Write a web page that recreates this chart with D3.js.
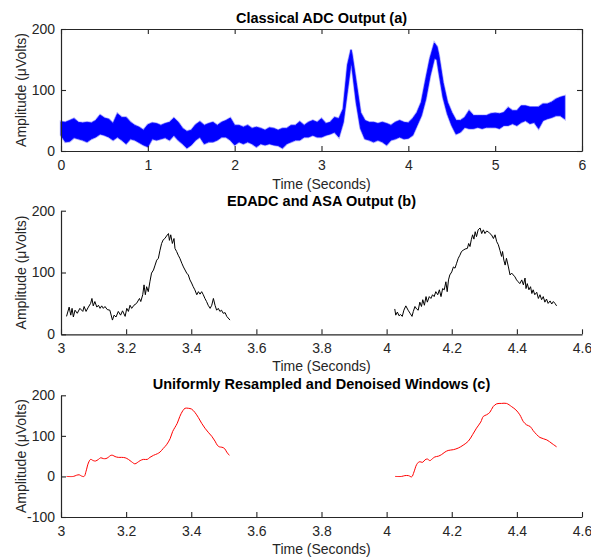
<!DOCTYPE html>
<html>
<head>
<meta charset="utf-8">
<script src="https://cdn.jsdelivr.net/npm/d3@7/dist/d3.min.js"></script>
<style>
  html, body { margin: 0; padding: 0; background: #fff; }
  svg { display: block; }
  text { font-family: "Liberation Sans", Arial, Helvetica, sans-serif; }
</style>
</head>
<body>
<svg id="chart" width="591" height="557"></svg>
<script>
// ---------------- DATA ----------------
// Panel (a): classical ADC output, noisy band (upper / lower envelope)
const timeA = [0,0.05,0.1,0.15,0.2,0.25,0.3,0.35,0.4,0.45,0.5,0.55,0.6,0.65,0.7,0.75,0.8,0.85,0.9,0.95,
  1.0,1.05,1.1,1.15,1.2,1.25,1.3,1.35,1.4,1.45,1.5,1.55,1.6,1.65,1.7,1.75,1.8,1.85,1.9,1.95,
  2.0,2.05,2.1,2.15,2.2,2.25,2.3,2.35,2.4,2.45,2.5,2.55,2.6,2.65,2.7,2.75,2.8,2.85,2.9,2.95,
  3.0,3.05,3.1,3.15,3.2,3.25,3.3,3.34,3.35,3.4,3.45,3.5,3.55,3.6,3.65,3.7,3.75,3.8,3.85,3.9,3.95,
  4.0,4.05,4.1,4.15,4.2,4.25,4.3,4.33,4.35,4.4,4.45,4.5,4.55,4.6,4.65,4.7,4.75,4.8,4.85,4.9,4.95,
  5.0,5.05,5.1,5.15,5.2,5.25,5.3,5.35,5.4,5.45,5.5,5.55,5.6,5.65,5.7,5.75,5.8];
const upperA = [48,47,50,53,47,46,47,46,50,59,54,52,45,61,55,55,47,42,39,34,
  43,46,45,42,45,47,54,47,37,32,34,43,48,42,45,47,42,47,50,54,
  42,42,39,42,37,39,37,34,38,37,34,37,37,42,42,48,42,47,50,47,
  53,45,47,55,53,69,141,166,160,112,63,50,47,47,45,47,45,42,47,50,47,
  46,53,63,80,117,152,177,171,158,112,80,63,50,50,55,66,58,58,58,58,61,
  62,61,63,71,66,66,74,74,72,72,72,77,77,80,85,88,90];
const lowerA = [26,15,16,22,20,18,15,20,23,28,26,23,18,23,18,12,20,18,14,10,
  7,20,18,20,22,18,26,18,12,5,10,18,23,12,15,15,18,23,23,18,
  10,15,12,15,12,7,12,10,12,10,9,5,12,15,18,18,23,23,26,23,
  23,26,28,31,23,47,101,144,139,80,37,20,18,15,18,15,10,18,20,23,20,
  21,26,42,58,85,123,152,150,131,88,61,42,28,31,39,37,37,39,37,39,39,
  39,37,42,42,45,42,47,50,45,47,37,50,53,55,58,58,53];

// Panel (b): EDADC and ASA output (two windows)
const timeB1 = [3.017,3.025,3.030,3.034,3.038,3.043,3.050,3.058,3.067,3.071,3.077,3.084,3.091,3.095,3.099,
  3.104,3.110,3.115,3.120,3.125,3.130,3.135,3.142,3.150,3.158,3.163,3.169,3.176,3.183,3.189,3.197,
  3.202,3.207,3.212,3.217,3.224,3.232,3.241,3.245,3.251,3.255,3.259,3.263,3.268,3.273,3.278,3.284,
  3.289,3.294,3.299,3.304,3.309,3.314,3.319,3.324,3.330,3.333,3.337,3.342,3.347,3.350,3.355,3.360,
  3.365,3.371,3.376,3.381,3.386,3.391,3.396,3.401,3.406,3.411,3.417,3.422,3.427,3.432,3.437,3.442,
  3.447,3.452,3.458,3.463,3.468,3.473,3.478,3.483,3.488,3.493,3.498,3.504,3.509,3.519];
const valB1 = [29,44,31,42,28,39,34,42,37,45,37,44,50,58,46,
  53,44,47,42,46,42,45,40,39,23,31,28,37,31,38,29,
  42,37,47,42,47,50,58,53,64,80,64,77,69,85,99,104,
  112,120,123,136,147,153,155,159,163,152,161,147,155,139,134,128,
  123,115,109,104,99,96,88,83,77,72,64,69,65,69,64,58,
  53,47,42,47,58,47,39,42,37,39,34,35,29,23];
const timeB2 = [4.025,4.028,4.033,4.038,4.043,4.048,4.053,4.059,4.066,4.072,4.078,4.082,4.087,4.092,4.097,
  4.102,4.107,4.111,4.116,4.121,4.125,4.131,4.136,4.141,4.146,4.151,4.157,4.162,4.167,4.172,4.177,
  4.182,4.186,4.190,4.194,4.200,4.205,4.210,4.215,4.220,4.225,4.230,4.235,4.241,4.248,4.252,4.256,
  4.260,4.264,4.268,4.272,4.276,4.281,4.287,4.292,4.297,4.302,4.307,4.312,4.317,4.322,4.328,4.333,
  4.338,4.343,4.348,4.353,4.356,4.360,4.364,4.368,4.374,4.379,4.384,4.389,4.394,4.399,4.404,4.409,
  4.415,4.420,4.425,4.428,4.432,4.437,4.442,4.446,4.450,4.455,4.461,4.466,4.471,4.476,4.481,4.486,
  4.491,4.496,4.502,4.507,4.512,4.517,4.522];
const valB2 = [41,31,36,30,32,29,39,46,39,34,29,37,45,41,39,
  52,45,56,47,61,52,61,58,64,61,69,64,72,61,74,72,
  85,69,88,96,101,109,107,115,123,128,134,136,138,139,147,142,
  153,161,154,166,158,169,172,163,169,163,167,166,163,161,155,161,
  150,145,136,126,134,120,112,123,109,96,99,96,93,88,85,82,
  88,80,91,74,82,72,77,66,72,64,68,58,64,56,61,52,
  57,50,54,49,53,50,46];

// Panel (c): uniformly resampled and denoised windows
const timeC1 = [3.017,3.038,3.048,3.056,3.063,3.071,3.077,3.084,3.091,3.099,3.106,3.115,3.122,3.130,3.138,
  3.145,3.153,3.159,3.166,3.176,3.186,3.197,3.207,3.217,3.227,3.234,3.243,3.253,3.265,3.273,3.284,
  3.296,3.304,3.314,3.324,3.335,3.343,3.350,3.357,3.365,3.374,3.381,3.391,3.401,3.411,3.422,3.432,
  3.442,3.452,3.463,3.473,3.480,3.486,3.494,3.502,3.509,3.517];
const valC1 = [0,0,3,4,1,0,13,33,42,39,38,42,46,44,44,
  47,52,52,49,47,47,46,42,36,31,34,39,42,42,47,52,
  56,60,69,78,93,111,121,131,148,162,168,168,166,158,145,131,
  119,109,99,87,77,73,72,69,60,52];
const timeC2 = [4.026,4.046,4.056,4.067,4.077,4.084,4.092,4.100,4.111,4.118,4.125,4.133,4.141,4.148,4.159,
  4.169,4.179,4.189,4.205,4.220,4.235,4.251,4.264,4.276,4.289,4.297,4.307,4.317,4.327,4.338,4.353,
  4.368,4.384,4.397,4.409,4.420,4.430,4.441,4.450,4.461,4.471,4.492,4.508,4.522];
const valC2 = [0,0,2,2,-1,11,29,36,35,41,43,39,44,48,50,
  54,60,64,66,70,77,87,103,119,134,148,152,158,172,179,180,
  180,172,164,152,135,127,123,113,103,96,90,81,73];

// Tick values / labels
const xTicksA = [0,1,2,3,4,5,6];
const yTicksA = [0,100,200];
const xTicksBC = [3,3.2,3.4,3.6,3.8,4,4.2,4.4,4.6];
const yTicksB = [0,100,200];
const yTicksC = [-100,0,100,200];
const titles = ["Classical ADC Output (a)", "EDADC and ASA Output (b)", "Uniformly Resampled and Denoised Windows (c)"];
const xLabel = "Time (Seconds)";
const yLabel = "Amplitude (\u03BCVolts)";

// ---------------- DRAW ----------------
const svg = d3.select("#chart");
svg.append("rect").attr("width", 591).attr("height", 557).attr("fill", "#fff");

const axisColor = "#262626";
const L = 61, R = 582;

function panel(cfg) {
  const x = d3.scaleLinear().domain(cfg.xdom).range([L, R]);
  const y = d3.scaleLinear().domain(cfg.ydom).range([cfg.bottom, cfg.top]);
  const g = svg.append("g");

  // data first
  cfg.draw(g, x, y);

  const fmt = d => String(d);
  g.append("g").attr("transform", `translate(0,${cfg.bottom})`)
    .call(d3.axisBottom(x).tickValues(cfg.xticks).tickFormat(fmt).tickSizeInner(-5).tickSizeOuter(0).tickPadding(9));
  g.append("g").attr("transform", `translate(${L},0)`)
    .call(d3.axisLeft(y).tickValues(cfg.yticks).tickFormat(fmt).tickSizeInner(-5).tickSizeOuter(0).tickPadding(6));
  if (cfg.box) {
    g.append("g").attr("transform", `translate(0,${cfg.top})`)
      .call(d3.axisTop(x).tickValues(cfg.xticks).tickFormat("").tickSizeInner(-5).tickSizeOuter(0));
    g.append("g").attr("transform", `translate(${R},0)`)
      .call(d3.axisRight(y).tickValues(cfg.yticks).tickFormat("").tickSizeInner(-5).tickSizeOuter(0));
  }
  g.selectAll(".domain").attr("stroke", axisColor).attr("stroke-width", 1.2);
  g.selectAll(".tick line").attr("stroke", axisColor).attr("stroke-width", 1.1);
  g.selectAll(".tick text").attr("fill", axisColor).style("font-size", "14px")
    .style("font-family", "'Liberation Sans', Arial, Helvetica, sans-serif");

  // title
  svg.append("text").attr("x", (L + R) / 2).attr("y", cfg.titleY)
    .attr("text-anchor", "middle").style("font-size", "14.5px").style("font-weight", "bold")
    .attr("fill", "#000").text(cfg.title);
  // x label
  svg.append("text").attr("x", (L + R) / 2).attr("y", cfg.xlabY)
    .attr("text-anchor", "middle").style("font-size", "14px").attr("fill", axisColor).text(xLabel);
  // y label
  const cy = (cfg.top + cfg.bottom) / 2;
  svg.append("text").attr("transform", `translate(26,${cy}) rotate(-90)`)
    .attr("text-anchor", "middle").style("font-size", "14px").attr("fill", axisColor).text(yLabel);
}

// Panel a
panel({
  xdom: [0, 6], ydom: [0, 200], top: 29, bottom: 151, box: true,
  xticks: xTicksA, yticks: yTicksA, title: titles[0], titleY: 23, xlabY: 189,
  draw: (g, x, y) => {
    const pts = timeA.map((t, i) => ({ t, u: upperA[i], l: lowerA[i] }));
    const area = d3.area().x(d => x(d.t)).y0(d => y(d.l)).y1(d => y(d.u));
    // soft fringe like the anti-aliased noisy trace
    g.append("path").datum(pts).attr("d", area)
      .attr("fill", "none").attr("stroke", "#6f6fff").attr("stroke-width", 2.4).attr("stroke-opacity", 0.55);
    g.append("path").datum(pts).attr("d", area)
      .attr("fill", "#0000ff").attr("stroke", "#0000ff").attr("stroke-width", 0.8);
  }
});

// Panel b
panel({
  xdom: [3, 4.6], ydom: [0, 200], top: 210.7, bottom: 334.3, box: false,
  xticks: xTicksBC, yticks: yTicksB, title: titles[1], titleY: 206, xlabY: 371,
  draw: (g, x, y) => {
    const line = d3.line().x(d => d[0]).y(d => d[1]);
    [[timeB1, valB1], [timeB2, valB2]].forEach(([ts, vs]) => {
      g.append("path").datum(ts.map((t, i) => [x(t), y(vs[i])])).attr("d", line)
        .attr("fill", "none").attr("stroke", "#000").attr("stroke-width", 1);
    });
  }
});

// Panel c
panel({
  xdom: [3, 4.6], ydom: [-100, 200], top: 395.3, bottom: 517, box: false,
  xticks: xTicksBC, yticks: yTicksC, title: titles[2], titleY: 389, xlabY: 554,
  draw: (g, x, y) => {
    const line = d3.line().x(d => d[0]).y(d => d[1]).curve(d3.curveCatmullRom.alpha(0.5));
    [[timeC1, valC1], [timeC2, valC2]].forEach(([ts, vs]) => {
      g.append("path").datum(ts.map((t, i) => [x(t), y(vs[i])])).attr("d", line)
        .attr("fill", "none").attr("stroke", "#ff0000").attr("stroke-width", 1);
    });
  }
});
</script>
</body>
</html>
